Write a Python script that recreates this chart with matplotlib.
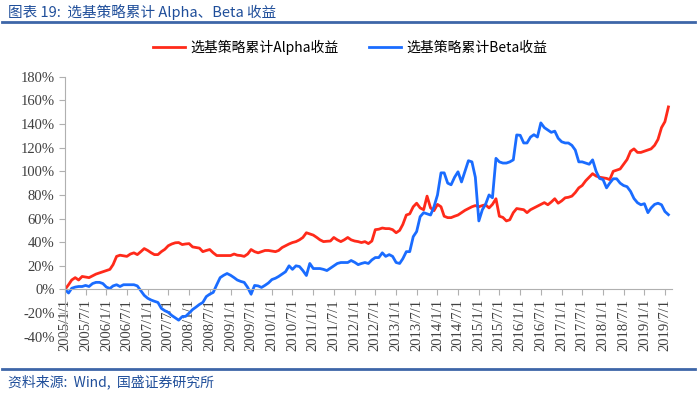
import matplotlib.pyplot as plt
from matplotlib.lines import Line2D
import pandas as pd

plt.rcParams['font.family'] = ['Noto Sans CJK SC', 'DejaVu Sans']

# monthly, 2005/1 .. 2019/8, in %
alpha = [
    0, 4, 8, 10, 8, 11, 10.5, 10, 11.5, 13, 14, 15,                       # 2005
    16, 17, 21, 28, 29, 28.5, 28, 30, 31, 29.5, 32, 34.6,                 # 2006
    33, 31, 29.5, 29.5, 32, 34, 37, 38.5, 39.5, 39.7, 38, 38.5,           # 2007
    38.8, 36, 35.5, 35, 32, 33, 33.8, 31, 28.7, 28.7, 28.7, 28.7,         # 2008
    28.7, 30, 29, 28.7, 28, 30, 33.8, 32, 31, 32, 33, 33,                 # 2009
    32.5, 32, 33, 35.5, 37, 38.5, 39.7, 40.5, 42, 44, 48, 47,             # 2010
    46, 44, 42, 40.5, 40.8, 41, 44, 42, 40.5, 42, 44, 42,                 # 2011
    41, 40.5, 39.7, 40.5, 38.8, 41, 50.6, 51, 52, 51.5, 51.5, 50.6,       # 2012
    48, 50, 55, 63, 64, 70, 73, 69, 67.5, 79, 69, 66.7,                   # 2013
    72, 70, 62, 60.8, 60.8, 62, 63, 65, 67, 68.5, 70, 71,                 # 2014
    70, 71, 71.7, 69, 72, 76.8, 62, 61, 58, 59, 65, 68.5,                 # 2015
    68, 67.5, 65, 67.5, 69, 70.5, 72, 73.5, 71.7, 74, 76.8, 73,           # 2016
    75, 77.6, 78, 79, 82, 86, 88, 92, 95, 98, 96, 95,                     # 2017
    94.5, 94, 93, 100, 101, 102, 106, 110, 117, 119, 116, 116,            # 2018
    117, 118, 119, 122, 127, 137, 142, 154.5,                             # 2019
]
beta = [
    0, -3, 1, 2, 2.5, 2.5, 3.4, 2.5, 5, 6, 6, 5,                          # 2005
    2, 0.8, 3, 4, 2.5, 4, 4, 4, 4, 3, -1, -5,                             # 2006
    -7.5, -9, -10, -11, -16, -18, -19.4, -22, -24, -26, -23, -22.8,       # 2007
    -20, -17, -15, -12.7, -11, -6, -4, -2.5, 4, 10, 12, 13.5,             # 2008
    12, 10, 8, 6.8, 6, 1.7, -4, 3.4, 3, 1.7, 3.5, 5.5,                    # 2009
    8.4, 9.5, 11, 13, 15, 20, 17, 20, 19.4, 16, 11.8, 22,                 # 2010
    17.7, 17.7, 17.7, 17, 16, 18, 20, 22, 22.8, 22.8, 22.8, 24.5,         # 2011
    23, 21, 22, 22.8, 22, 25, 27, 27, 31, 28, 29.5, 28,                   # 2012
    22.8, 22, 26, 32, 32, 44.7, 49, 61.6, 65, 64, 63, 70,                 # 2013
    80, 98.7, 98.7, 90, 88.6, 95, 99.6, 91, 100, 109, 108, 95,            # 2014
    58, 67.5, 72, 80, 77.6, 111, 108, 107, 107, 108, 109.7, 130.8,        # 2015
    130.5, 124, 124, 129, 131, 129, 141, 137, 135, 133, 134, 128,         # 2016
    125, 124, 124, 122, 118, 108, 108, 107, 106, 109.7, 100, 94,          # 2017
    93, 86, 90, 93.7, 93.7, 90, 88, 87, 83, 77, 73.4, 71.7,               # 2018
    72.6, 65, 69, 72, 73, 71.7, 66, 63.3,                                 # 2019
]
dates = pd.date_range('2005-01-01', periods=len(alpha), freq='MS')
tick_dates = pd.date_range('2005-01-01', '2019-07-01', freq='6MS')
tick_labels = [f"{d.year}/{d.month}/1" for d in tick_dates]
yticks = list(range(-40, 181, 20))

fig = plt.figure(figsize=(7, 3.98), dpi=100)
ax = fig.add_axes([0.0929, 0.154, 0.867, 0.653])

ax.plot(dates, alpha, color='#ff2a1a', lw=2, label='选基策略累计Alpha收益')
ax.plot(dates, beta, color='#1a6cff', lw=2, label='选基策略累计Beta收益')

# spine position first: it resets the ticks
for s in ['top', 'right']:
    ax.spines[s].set_visible(False)
ax.spines['bottom'].set_position(('data', 0))
ax.spines['bottom'].set_color('#b0b0b0')
ax.spines['left'].set_color('#b0b0b0')

ax.set_ylim(-40, 180)
ax.set_xlim(pd.Timestamp('2005-01-01'), pd.Timestamp('2019-09-01'))
ax.set_yticks(yticks)
ax.set_yticklabels([f"{v}%" for v in yticks], family='Liberation Serif',
                   fontsize=10.5, color='#404040')
ax.set_xticks(tick_dates)
ax.set_xticklabels(tick_labels, family='Liberation Serif', fontsize=10.5,
                   color='#404040', rotation=90, ha='center', va='top')
ax.tick_params(axis='both', color='#b0b0b0', length=4, direction='out')
ax.tick_params(axis='x', pad=3, labelrotation=90)

ax.legend(loc='center', bbox_to_anchor=(0.47, 1.115), ncol=2, frameon=False,
          fontsize=10, handlelength=2.3, columnspacing=2.2, handletextpad=0.4)

fig.text(0.012, 0.99, '图表 19:  选基策略累计 Alpha、Beta 收益', color='#1f4e9a',
         fontsize=10.5, va='top', ha='left', style='italic')
fig.add_artist(Line2D([0.003, 0.993], [0.945, 0.945], color='#3d66a8', lw=2))
fig.add_artist(Line2D([0.003, 0.993], [0.072, 0.072], color='#3d66a8', lw=2))
fig.text(0.012, 0.06, '资料来源:  Wind,  国盛证券研究所', color='#1f4e9a',
         fontsize=10, va='top', ha='left', style='italic')

fig.savefig('out.png', dpi=100)
